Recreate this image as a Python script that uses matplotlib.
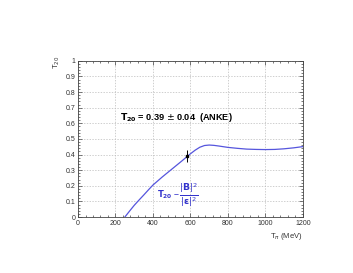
import matplotlib
matplotlib.use('Agg')
from matplotlib import pyplot as plt
from matplotlib.ticker import MultipleLocator

plt.rcParams['font.family'] = ['Liberation Sans', 'DejaVu Sans']

# curve T20 vs T_pi
t_pi = [250, 275, 300, 325, 350, 375, 400, 450, 500, 550, 600, 625, 650, 675, 700,
        725, 750, 800, 850, 900, 950, 1000, 1050, 1100, 1150, 1200]
t20 = [0.0, 0.038, 0.075, 0.108, 0.14, 0.173, 0.205, 0.257, 0.306, 0.355, 0.405,
       0.428, 0.447, 0.458, 0.461, 0.459, 0.455, 0.446, 0.44, 0.435, 0.433, 0.432,
       0.433, 0.437, 0.443, 0.451]

# ANKE measurement
anke_t = [583]
anke_v = [0.39]
anke_err = [0.04]

fig = plt.figure(figsize=(3.53, 2.73), dpi=100)
ax = fig.add_axes([0.221, 0.205, 0.637, 0.572])

ax.plot(t_pi, t20, color='#5555dd', lw=0.9)
ax.errorbar(anke_t, anke_v, yerr=anke_err, fmt='s', color='black', ms=1.8,
            elinewidth=0.7, capsize=0)

ax.set_xlim(0, 1200)
ax.set_ylim(0, 1)
ax.xaxis.set_major_locator(MultipleLocator(200))
ax.xaxis.set_minor_locator(MultipleLocator(40))
ax.yaxis.set_major_locator(MultipleLocator(0.1))
ax.yaxis.set_minor_locator(MultipleLocator(0.02))
ax.yaxis.set_major_formatter(plt.FuncFormatter(lambda v, p: '0' if v == 0 else ('1' if v == 1 else '%g' % v)))
ax.tick_params(which='both', direction='in', top=True, right=True, labelsize=5, pad=2,
               width=0.5, color='#444444', labelcolor='#333333')
ax.tick_params(which='major', length=3)
ax.tick_params(which='minor', length=1.5)
ax.grid(True, which='major', ls=(0, (2, 2)), color='#bbbbbb', lw=0.5)
for s in ax.spines.values():
    s.set_linewidth(0.6)
    s.set_color('#444444')

fig.text(0.858, 0.135, r'T$_{\pi}$ (MeV)', ha='right', va='center', fontsize=5.5, color='#333333')
fig.text(0.16, 0.77, r'T$_{20}$', rotation=90, ha='center', va='center', fontsize=5.5, color='#333333')

ax.text(222, 0.64, r'$\mathbf{T_{20}}$ = 0.39 $\pm$ 0.04  (ANKE)', fontsize=6.6, fontweight='bold',
        ha='left', va='center')
ax.text(420, 0.14, r'$\mathbf{T_{20}}$ ~', fontsize=6,
        fontweight='bold', color='#3333cc', ha='left', va='center')
ax.text(540, 0.14, r'$\frac{|\mathbf{B}|^2}{|\mathbf{\epsilon}|^2}$', fontsize=9.5,
        color='#3333cc', ha='left', va='center')

fig.savefig('out.png', dpi=100)
